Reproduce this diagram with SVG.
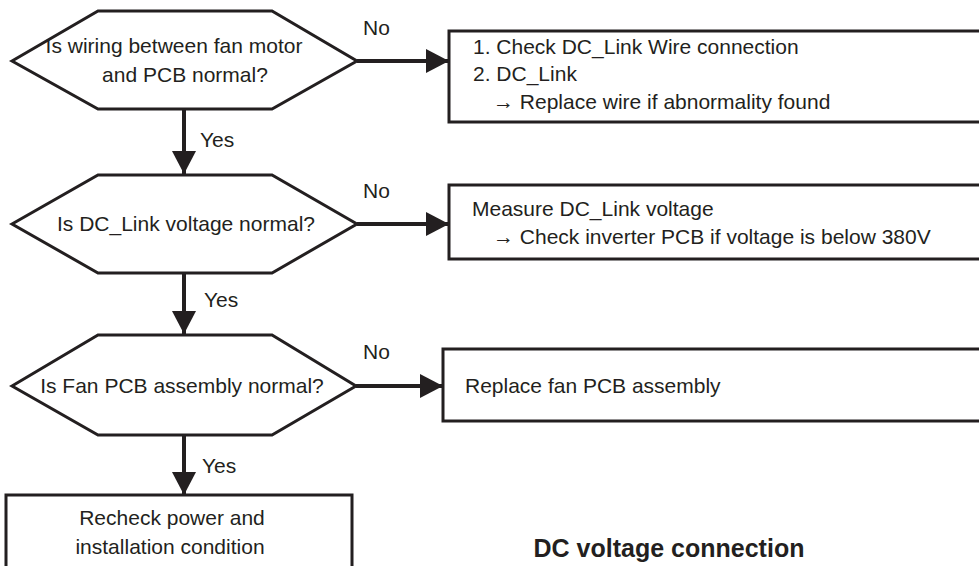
<svg xmlns="http://www.w3.org/2000/svg" width="979" height="566" viewBox="0 0 979 566">
<style>
.s{fill:#fff;stroke:#231f20;stroke-width:3}
.t{font-family:"Liberation Sans",Arial,sans-serif;font-size:21px;fill:#231f20}
.m{text-anchor:middle}
.c{stroke:#231f20;stroke-width:4;fill:none;marker-end:url(#a)}
.ttl{font-family:"Liberation Sans",Arial,sans-serif;font-size:25px;font-weight:bold;fill:#231f20;text-anchor:middle}
</style>
<defs>
<marker id="a" markerUnits="userSpaceOnUse" markerWidth="24" markerHeight="24" refX="23" refY="12" orient="auto">
<path d="M0,0 L23,12 L0,24 z" fill="#231f20"/>
</marker>
</defs>
<rect width="979" height="566" fill="#fff"/>
<g id="connectors">
<line class="c" x1="357" y1="61" x2="449" y2="61"/>
<line class="c" x1="357" y1="224" x2="449" y2="224"/>
<line class="c" x1="356" y1="386" x2="443" y2="386"/>
<line class="c" x1="184" y1="109" x2="184" y2="174"/>
<line class="c" x1="184" y1="273" x2="184" y2="334"/>
<line class="c" x1="184" y1="435" x2="184" y2="495"/>
<text class="t" x="363" y="35">No</text>
<text class="t" x="363" y="198">No</text>
<text class="t" x="363" y="359">No</text>
<text class="t" x="200" y="147">Yes</text>
<text class="t" x="204" y="307">Yes</text>
<text class="t" x="202" y="473">Yes</text>
</g>
<g id="d1">
<polygon class="s" points="12,61 98,11 272,11 357,61 272,109 98,109"/>
<text class="t m" x="174" y="53">Is wiring between fan motor</text>
<text class="t m" x="185" y="82">and PCB normal?</text>
</g>
<g id="d2">
<polygon class="s" points="12,224 98,175 272,175 357,224 272,273 98,273"/>
<text class="t m" x="186" y="231">Is DC_Link voltage normal?</text>
</g>
<g id="d3">
<polygon class="s" points="12,386 98,335 272,335 356,386 272,435 98,435"/>
<text class="t m" x="182" y="393">Is Fan PCB assembly normal?</text>
</g>
<g id="b1">
<rect class="s" x="449" y="31" width="545" height="91"/>
<text class="t" x="473" y="54">1. Check DC_Link Wire connection</text>
<text class="t" x="473" y="81">2. DC_Link</text>
<text class="t" x="493" y="109">→ Replace wire if abnormality found</text>
</g>
<g id="b2">
<rect class="s" x="449" y="185" width="545" height="74"/>
<text class="t" x="472" y="216">Measure DC_Link voltage</text>
<text class="t" x="493" y="244">→ Check inverter PCB if voltage is below 380V</text>
</g>
<g id="b3">
<rect class="s" x="443" y="349" width="550" height="72"/>
<text class="t" x="465" y="393">Replace fan PCB assembly</text>
</g>
<g id="b4">
<rect class="s" x="6" y="495" width="346" height="85"/>
<text class="t m" x="172" y="525">Recheck power and</text>
<text class="t m" x="170" y="554">installation condition</text>
</g>
<text class="ttl" x="669" y="557">DC voltage connection</text>
</svg>
